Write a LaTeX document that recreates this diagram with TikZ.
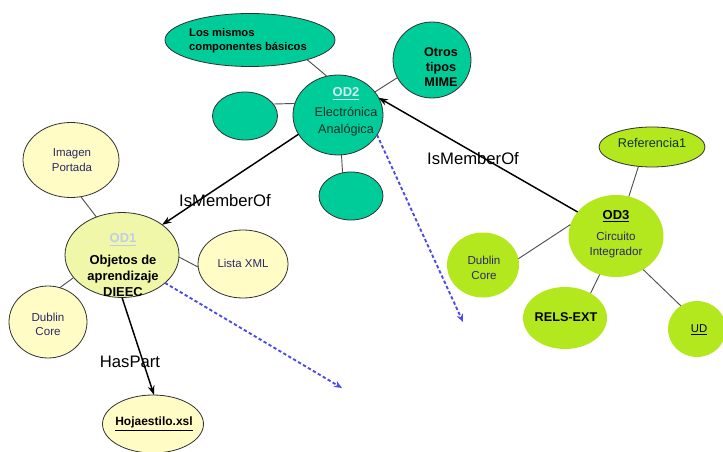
\documentclass[tikz,border=0pt]{standalone}
\usepackage{fontspec}
\setmainfont{Liberation Sans}
\usetikzlibrary{shapes.geometric,arrows.meta}
\definecolor{tealf}{HTML}{00CC99}
\definecolor{limef}{HTML}{B4E81E}
\definecolor{palef}{HTML}{FFFCC6}
\definecolor{od1f}{HTML}{F0F7A8}
\definecolor{bord}{HTML}{303030}
\definecolor{navytxt}{HTML}{2B2866}
\definecolor{darktxt}{HTML}{10302C}
\definecolor{od2txt}{HTML}{D4ECF4}
\definecolor{od1txt}{HTML}{C4CBE6}
\definecolor{bluedash}{HTML}{4A4AE6}
\definecolor{thinline}{HTML}{505050}
\tikzset{
  ell/.style n args={2}{ellipse, draw=bord, line width=0.6pt, inner sep=0pt, outer sep=0pt,
    minimum width=#1*0.75pt, minimum height=#2*0.75pt},
  tealnode/.style={fill=tealf},
  limenode/.style={fill=limef, draw=none},
  limeoutlined/.style={fill=limef},
  palenode/.style={fill=palef},
  od1node/.style={fill=od1f},
  txt/.style={align=center, inner sep=0pt, outer sep=0pt},
  thin link/.style={draw=thinline, line width=0.7pt},
  rel/.style={draw=black, line width=1.1pt, -{Stealth[length=7pt,width=5pt]}},
  dashrel/.style={draw=bluedash, line width=1.4pt, dash pattern=on 2.5pt off 1.8pt, -{Stealth[length=6pt,width=5pt]}},
  rellabel/.style={inner sep=0pt, font=\fontsize{12.5}{14}\selectfont}
}
\begin{document}
\begin{tikzpicture}[x=0.75pt,y=-0.75pt]
\useasboundingbox (0,0) rectangle (723,452);
% ---- OD2 cluster (teal)
\node[ell={170}{53}, tealnode] (ms) at (250,40) {};
\node[ell={78}{76}, tealnode] (om) at (432,60) {};
\node[ell={65}{48}, tealnode] (l2) at (245,116) {};
\node[ell={64}{48}, tealnode] (b2) at (351,196) {};
\node[ell={90}{80}, tealnode] (od2) at (338,115) {};
% ---- OD1 cluster (yellow)
\node[ell={96}{75}, palenode] (ip) at (71,160) {};
\node[ell={90}{68}, palenode] (lx) at (243,264) {};
\node[ell={78}{72}, palenode] (dc1) at (48,322) {};
\node[ell={101}{58}, palenode] (hs) at (153,424) {};
\node[ell={114}{85}, od1node] (od1) at (122,255) {};
% ---- OD3 cluster (lime)
\node[ell={106}{40}, limeoutlined] (rf) at (652,147) {};
\node[ell={72}{65}, limenode] (dc3) at (483,265) {};
\node[ell={84}{62}, limenode] (re) at (565,318) {};
\node[ell={58}{56}, limenode] (ud) at (697,329) {};
\node[ell={95}{82}, limenode] (od3) at (616,236) {};
% ---- thin links
\draw[thin link] (ms.-19) -- (od2.106);
\draw[thin link] (om.-153) -- (od2.32);
\draw[thin link] (l2.23) -- (od2.165);
\draw[thin link] (b2.110) -- (od2.-85);
\draw[thin link] (ip.-75) -- (od1.124);
\draw[thin link] (lx.-176) -- (od1.-2);
\draw[thin link] (dc1.71) -- (od1.-155);
\draw[thin link] (rf.-125) -- (od3.72);
\draw[thin link] (dc3.10) -- (od3.166);
\draw[thin link] (re.44) -- (od3.-113);
\draw[thin link] (ud.125) -- (od3.-51);
% ---- relations
\coordinate (d1end) at (342,388);
\coordinate (d2end) at (463,322);
\draw[rel] (od2.206) -- (od1.37);
\draw[rel] (od1.-90) -- (hs.88);
\draw[rel] (od3.148) -- (od2.23);
\draw[dashrel] (od1.-33) -- (d1end);
\draw[dashrel] (od2.-27) -- (d2end);
% ---- texts
\node[txt, align=left, font=\bfseries\fontsize{8.4}{10.5}\selectfont, text=black] (mst) at (248,41) {Los mismos\\componentes básicos};
\node[txt, font=\bfseries\fontsize{9.5}{11.25}\selectfont] (omt) at (441,67) {Otros\\tipos\\MIME};
\node[txt, font=\fontsize{9.5}{12.75}\selectfont, text=darktxt] (od2t) at (346,112) {{\bfseries\fontsize{9.75}{12}\selectfont\color{od2txt}\underline{OD2}}\\[2pt]Electrónica\\Analógica};
\node[txt, font=\bfseries\fontsize{9.7}{12}\selectfont] (od1t) at (123,265) {{\color{od1txt}\underline{OD1}}\\[4pt]Objetos de\\aprendizaje\\DIEEC};
\node[txt, font=\fontsize{8.6}{11.25}\selectfont, text=navytxt] (ipt) at (72,160.5) {Imagen\\Portada};
\node[txt, font=\fontsize{8.6}{11}\selectfont, text=navytxt] (lxt) at (243,263) {Lista XML};
\node[txt, font=\fontsize{8.7}{10.5}\selectfont, text=navytxt] (dc1t) at (48,324) {Dublin\\Core};
\node[txt, font=\bfseries\fontsize{9}{11}\selectfont] (hst) at (154,424) {\underline{Hojaestilo.xsl}};
\node[txt, font=\fontsize{8.7}{11.25}\selectfont, text=navytxt] (od3t) at (616,234) {{\bfseries\fontsize{9.75}{12}\selectfont\color{black}\underline{OD3}}\\[4pt]Circuito\\Integrador};
\node[txt, font=\fontsize{9.5}{11}\selectfont, text=darktxt] (rft) at (652,143) {Referencia1};
\node[txt, font=\fontsize{8.7}{11.25}\selectfont, text=navytxt] (dc3t) at (484,268) {Dublin\\Core};
\node[txt, font=\bfseries\fontsize{9.5}{11}\selectfont] (ret) at (566,317) {RELS-EXT};
\node[txt, font=\fontsize{8.5}{10}\selectfont] (udt) at (699,330) {\underline{UD}};
\node[rellabel] (lab1) at (225,201) {IsMemberOf};
\node[rellabel] (lab2) at (473,159) {IsMemberOf};
\node[rellabel] (lab3) at (130,362) {HasPart};
\end{tikzpicture}
\end{document}
